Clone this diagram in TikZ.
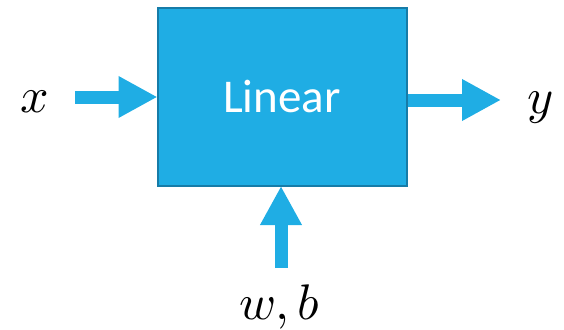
\documentclass[tikz,border=0pt]{standalone}
\usepackage{fontspec}
\usepackage{unicode-math}
\setmathfont{Latin Modern Math}
\newfontfamily\boxfont{Carlito}
\usetikzlibrary{arrows.meta}
\definecolor{boxfill}{RGB}{31,173,228}
\definecolor{boxedge}{RGB}{22,124,168}
\begin{document}
\begin{tikzpicture}[x=1pt,y=-1pt,
  block/.style={draw=boxedge,line width=2pt,fill=boxfill,minimum width=249pt,
    minimum height=178pt,inner sep=0pt,text=white,
    font=\boxfont\fontsize{47}{47}\selectfont},
  flow/.style={draw=boxfill,line width=13pt,
    -{Triangle[length=39pt,width=39pt]},shorten >=-1pt},
  lbl/.style={anchor=base,inner sep=0pt,font=\fontsize{50}{50}\selectfont}]
  \useasboundingbox (0,0) rectangle (564,329);
  \node[block] (lin) at (282,97) {Linear};
  \coordinate (xin) at (75,97);
  \coordinate (yout) at (500,100);
  \coordinate (wbin) at (281,268);
  \draw[flow] (xin) -- (lin.west);
  \draw[flow] (lin.east |- yout) -- (yout);
  \draw[flow] (wbin) -- (lin.south -| wbin);
  \node[lbl] (xl) at (35,112) {$x$};
  \node[lbl] (yl) at (540,113) {$y$};
  \node[lbl] (wb) at (280,319) {$w,b$};
\end{tikzpicture}
\end{document}
